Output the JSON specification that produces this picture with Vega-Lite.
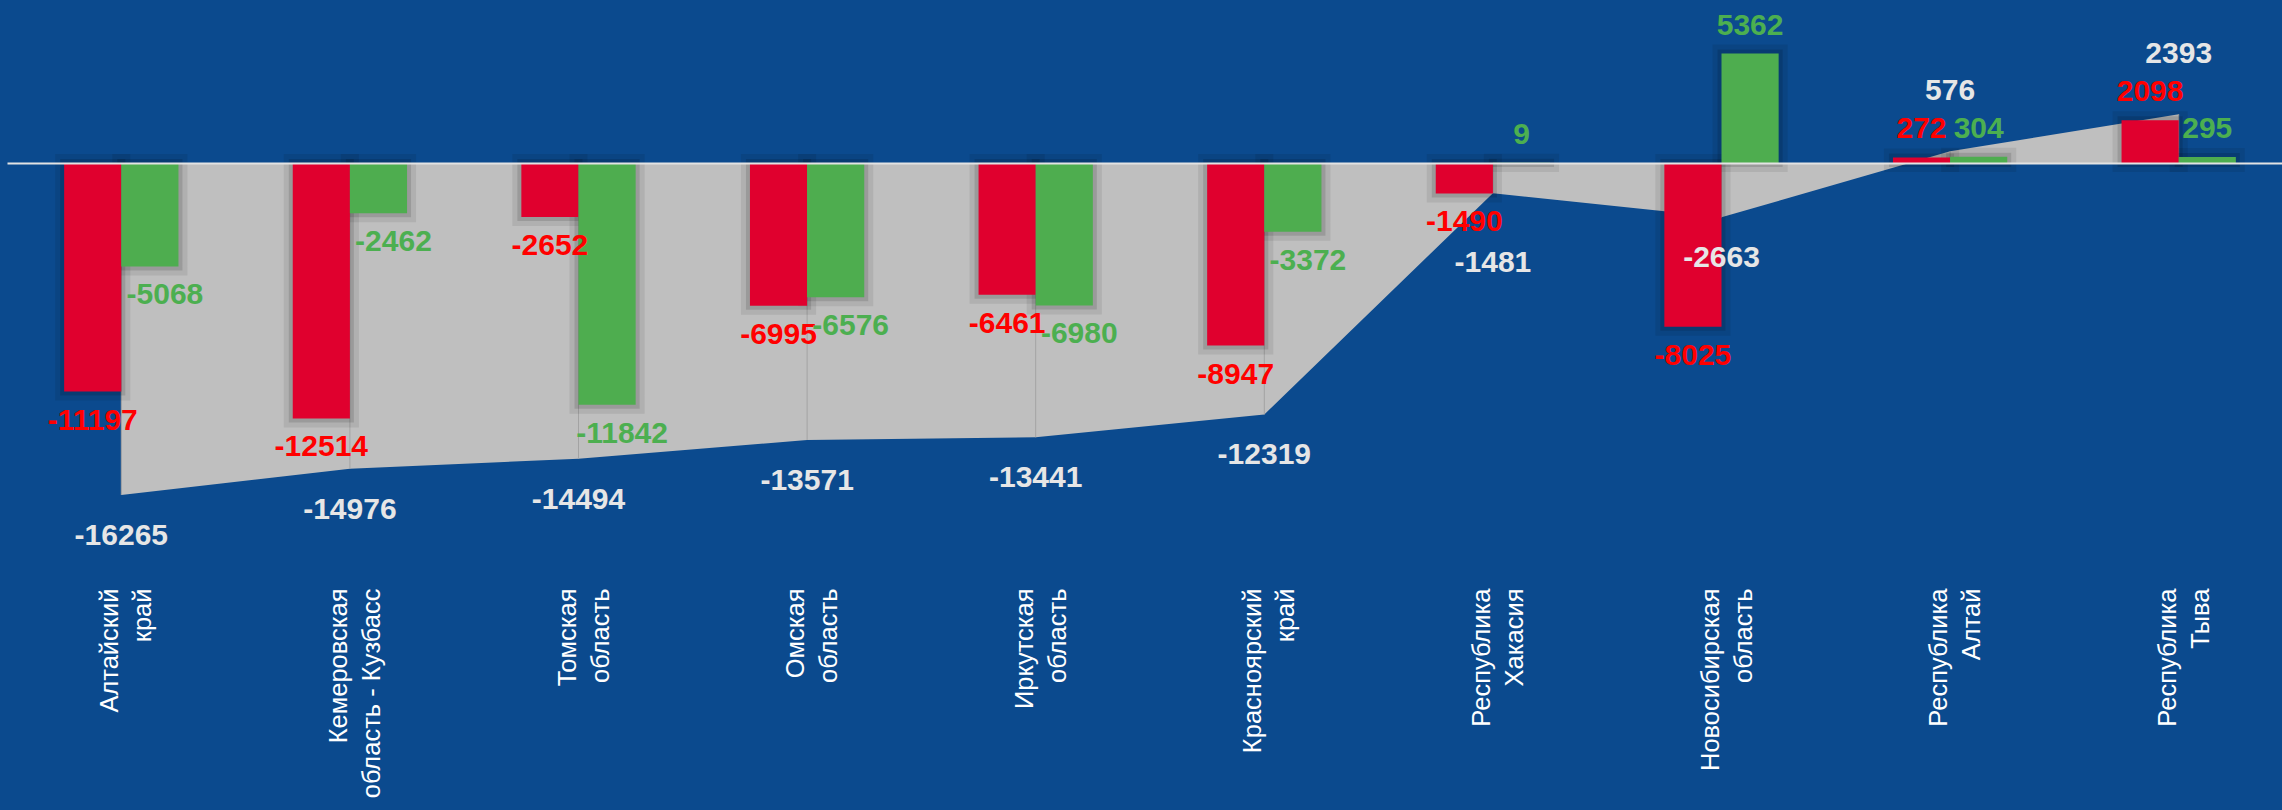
{
  "$schema": "https://vega.github.io/schema/vega-lite/v6.json",
  "width": 2282,
  "height": 810,
  "autosize": {"type": "none"},
  "padding": 0,
  "background": "#0B4A8E",
  "config": {"view": {"stroke": null}, "font": "Liberation Sans"},
  "datasets": {
    "rows": [
      {"region": "Алтайский край", "series": "natural", "value": -11197},
      {"region": "Алтайский край", "series": "migration", "value": -5068},
      {"region": "Кемеровская область - Кузбасс", "series": "natural", "value": -12514},
      {"region": "Кемеровская область - Кузбасс", "series": "migration", "value": -2462},
      {"region": "Томская область", "series": "natural", "value": -2652},
      {"region": "Томская область", "series": "migration", "value": -11842},
      {"region": "Омская область", "series": "natural", "value": -6995},
      {"region": "Омская область", "series": "migration", "value": -6576},
      {"region": "Иркутская область", "series": "natural", "value": -6461},
      {"region": "Иркутская область", "series": "migration", "value": -6980},
      {"region": "Красноярский край", "series": "natural", "value": -8947},
      {"region": "Красноярский край", "series": "migration", "value": -3372},
      {"region": "Республика Хакасия", "series": "natural", "value": -1490},
      {"region": "Республика Хакасия", "series": "migration", "value": 9},
      {"region": "Новосибирская область", "series": "natural", "value": -8025},
      {"region": "Новосибирская область", "series": "migration", "value": 5362},
      {"region": "Республика Алтай", "series": "natural", "value": 272},
      {"region": "Республика Алтай", "series": "migration", "value": 304},
      {"region": "Республика Тыва", "series": "natural", "value": 2098},
      {"region": "Республика Тыва", "series": "migration", "value": 295}
    ],
    "totals": [
      {"region": "Алтайский край", "value": -16265},
      {"region": "Кемеровская область - Кузбасс", "value": -14976},
      {"region": "Томская область", "value": -14494},
      {"region": "Омская область", "value": -13571},
      {"region": "Иркутская область", "value": -13441},
      {"region": "Красноярский край", "value": -12319},
      {"region": "Республика Хакасия", "value": -1481},
      {"region": "Новосибирская область", "value": -2663},
      {"region": "Республика Алтай", "value": 576},
      {"region": "Республика Тыва", "value": 2393}
    ]
  },
  "encoding": {
    "x": {
      "field": "region",
      "type": "nominal",
      "sort": null,
      "scale": {
        "type": "band",
        "domain": ["Алтайский край", "Кемеровская область - Кузбасс", "Томская область", "Омская область", "Иркутская область", "Красноярский край", "Республика Хакасия", "Новосибирская область", "Республика Алтай", "Республика Тыва"],
        "range": [7, 2293],
        "paddingInner": 0,
        "paddingOuter": 0
      },
      "axis": {
        "orient": "bottom",
        "offset": -232,
        "title": null,
        "domain": false,
        "ticks": false,
        "tickSize": 0,
        "grid": false,
        "labelAngle": -90,
        "labelAlign": "right",
        "labelBaseline": "middle",
        "labelPadding": 10,
        "labelOffset": -11,
        "labelFontSize": 25.5,
        "labelLineHeight": 33,
        "labelColor": "#FFFFFF",
        "labelFont": "Liberation Sans",
        "labelLimit": 0,
        "labelOverlap": false,
        "labelExpr": "[substring(datum.label, 0, indexof(datum.label, ' ')), substring(datum.label, indexof(datum.label, ' ') + 1)]"
      }
    },
    "y": {
      "field": "value",
      "type": "quantitative",
      "scale": {"domain": [-31700, 7986], "nice": false, "zero": false},
      "axis": {
        "orient": "left",
        "values": [0],
        "grid": true,
        "gridColor": "#E3E3E3",
        "gridWidth": 2,
        "gridOpacity": 1,
        "domain": false,
        "ticks": false,
        "labels": false,
        "title": null,
        "zindex": 1
      }
    }
  },
  "layer": [
    {
      "data": {"name": "totals"},
      "mark": {"type": "area", "color": "#BFBFBF", "opacity": 1},
      "encoding": {"y2": {"datum": 0}}
    },
    {
      "data": {"name": "totals"},
      "mark": {"type": "rule", "color": "#A3A3A3", "strokeWidth": 1},
      "encoding": {"y2": {"datum": 0}}
    },
    {
      "data": {"name": "rows"},
      "mark": {"type": "bar", "fillOpacity": 0, "stroke": "#000000", "strokeOpacity": 0.08, "strokeWidth": 18},
      "encoding": {
        "xOffset": {"field": "series", "scale": {"domain": ["natural", "migration"], "paddingInner": 0, "paddingOuter": 1.117}},
        "y2": {"datum": 0}
      }
    },
    {
      "data": {"name": "rows"},
      "mark": {"type": "bar", "fillOpacity": 0, "stroke": "#000000", "strokeOpacity": 0.12, "strokeWidth": 8},
      "encoding": {
        "xOffset": {"field": "series", "scale": {"domain": ["natural", "migration"], "paddingInner": 0, "paddingOuter": 1.117}},
        "y2": {"datum": 0}
      }
    },
    {
      "data": {"name": "rows"},
      "mark": {"type": "bar", "opacity": 1},
      "encoding": {
        "xOffset": {"field": "series", "scale": {"domain": ["natural", "migration"], "paddingInner": 0, "paddingOuter": 1.117}},
        "y2": {"datum": 0},
        "color": {"field": "series", "type": "nominal", "scale": {"domain": ["natural", "migration"], "range": ["#E0002E", "#4EAD4F"]}, "legend": null}
      }
    },
    {
      "data": {"name": "rows"},
      "mark": {
        "type": "text",
        "fontSize": 30,
        "fontWeight": "bold",
        "font": "Liberation Sans",
        "baseline": "middle",
        "align": "center",
        "dy": {"expr": "datum.value < 0 ? 29 : -28"},
        "dx": {"expr": "datum.series == 'migration' && datum.value < 0 ? 15 : 0"}
      },
      "encoding": {
        "xOffset": {"field": "series", "scale": {"domain": ["natural", "migration"], "paddingInner": 0, "paddingOuter": 1.117}},
        "text": {"field": "value", "type": "nominal"},
        "fill": {"field": "series", "type": "nominal", "scale": {"domain": ["natural", "migration"], "range": ["#FF0000", "#4CAF50"]}, "legend": null}
      }
    },
    {
      "data": {"name": "totals"},
      "mark": {
        "type": "text",
        "fontSize": 30,
        "fontWeight": "bold",
        "font": "Liberation Sans",
        "baseline": "middle",
        "align": "center",
        "color": "#E6E6E6",
        "dy": {"expr": "datum.value < 0 ? (datum.value > -2000 ? 70 : 41) : -60"}
      },
      "encoding": {
        "text": {"field": "value", "type": "nominal"}
      }
    }
  ]
}
